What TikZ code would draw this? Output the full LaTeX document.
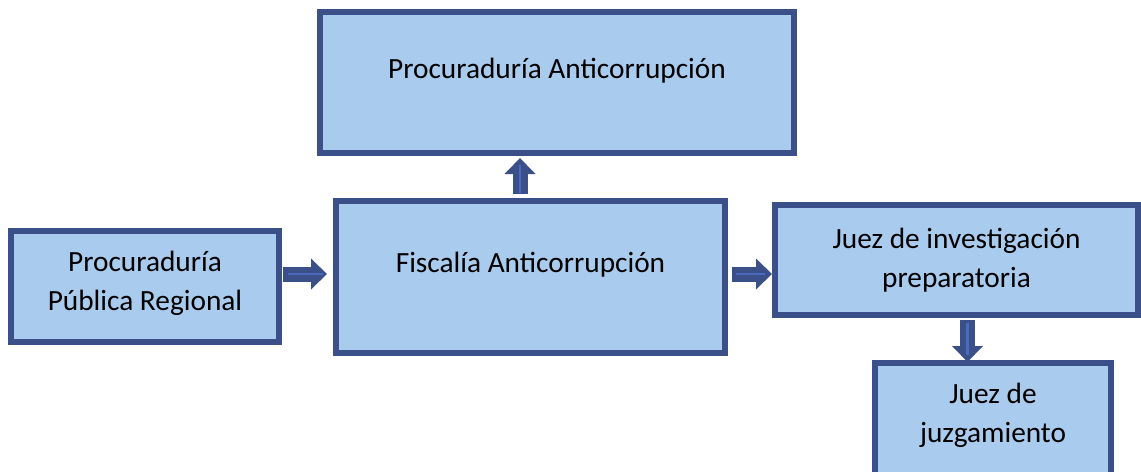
\documentclass[tikz,border=0pt]{standalone}
\usepackage{fontspec}
\setmainfont{Carlito}
\usetikzlibrary{arrows.meta,positioning,calc}
\definecolor{relleno}{RGB}{169,203,238}
\definecolor{borde}{RGB}{59,80,136}
\definecolor{franja}{RGB}{74,106,192}

\tikzset{
  caja/.style={draw=borde, fill=relleno, line width=4.5pt, align=center, inner sep=0pt},
  flecha/.style={draw=borde, line width=11.25pt, -{Triangle[length=12pt,width=22.5pt]}},
  brillo/.style={draw=franja, line width=2pt},
}

\begin{document}
\begin{tikzpicture}[x=0.75pt, y=-0.75pt, font=\fontsize{22}{29}\selectfont]
    \useasboundingbox (0,0) rectangle (1141,471);
    \clip (0,0) rectangle (1141,471);

    % Boxes
    \node[caja, minimum width=355.5pt, minimum height=105.75pt] (pa) at (557,82.5) {};
    \node[caja, minimum width=291.75pt, minimum height=114pt] (fisc) at (530.5,277) {};
    \node[caja, minimum width=201pt, minimum height=83.25pt] (ppr) at (145,286.5) {};
    \node[caja, minimum width=272.25pt, minimum height=82.5pt] (jinv) at (956.5,260) {};
    \node[caja, minimum width=177pt, minimum height=91.5pt] (jjuz) at (993,424) {};

    % Texts
    \node[align=center] (tpa) at ($(pa)+(0,-12)$) {Procuraduría Anticorrupción};
    \node[align=center] (tfisc) at ($(fisc)+(0,-12)$) {Fiscalía Anticorrupción};
    \node[align=center] (tppr) at ($(ppr)+(0,-3)$) {Procuraduría\\Pública Regional};
    \node[align=center] (tjinv) at (jinv) {Juez de investigación\\preparatoria};
    \node[align=center] (tjjuz) at ($(jjuz)+(0,-9)$) {Juez de\\juzgamiento};

    % Arrows
    \coordinate (a1) at ($(ppr.east |- fisc.center)+(0,-3)$);
    \coordinate (a2) at ($(fisc.east)+(0,-3)$);
    \coordinate (a3) at ($(fisc.north)+(-10.5,0)$);
    \coordinate (a4) at ($(jinv.south)+(11,0)$);

    \draw[flecha, shorten <=0.75pt, shorten >=4.5pt] (a1) -- (a1 -| fisc.west);
    \draw[brillo, shorten <=4.5pt, shorten >=7.5pt] (a1) -- (a1 -| fisc.west);

    \draw[flecha, shorten <=3pt] (a2) -- (a2 -| jinv.west);
    \draw[brillo, shorten <=6pt, shorten >=5.5pt] (a2) -- (a2 -| jinv.west);

    \draw[flecha, shorten <=3pt, shorten >=1.5pt] (a3) -- (a3 |- pa.south);
    \draw[brillo, shorten <=4pt, shorten >=7pt] (a3) -- (a3 |- pa.south);

    \draw[flecha, shorten <=1.5pt, shorten >=-1.5pt] (a4) -- (a4 |- jjuz.north);
    \draw[brillo, shorten <=3.5pt, shorten >=4pt] (a4) -- (a4 |- jjuz.north);
\end{tikzpicture}
\end{document}
